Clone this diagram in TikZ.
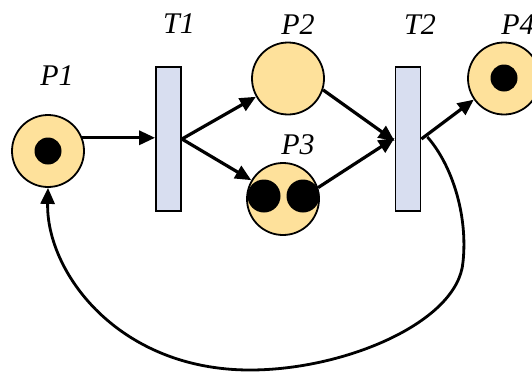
\documentclass[tikz,border=0pt]{standalone}
\usepackage{fontspec}
\setmainfont{Liberation Serif}
\usetikzlibrary{arrows.meta}
\definecolor{placefill}{RGB}{254,225,155}
\definecolor{transfill}{RGB}{216,222,240}
\begin{document}
\begin{tikzpicture}[x=1pt,y=-1pt,
  place/.style={circle,draw=black,line width=1.8pt,fill=placefill,minimum size=72pt,inner sep=0pt},
  trans/.style={rectangle,draw=black,line width=1.8pt,fill=transfill,minimum width=25pt,minimum height=144pt,inner sep=0pt},
  token/.style={circle,fill=black,inner sep=0pt,minimum size=#1},
  lbl/.style={font=\fontsize{30}{34}\selectfont\itshape,inner sep=0pt},
  arc/.style={line width=3.2pt,-{Triangle[length=16pt,width=14pt]}},
  loop/.style={line width=2.8pt,-{Triangle[length=16pt,width=14pt]}}]
\useasboundingbox (0,0) rectangle (532,372);
\node[place] (P1) at (48,151) {};
\node[token=27pt] (k1) at (48,151) {};
\node[trans] (T1) at (168.5,139) {};
\node[place] (P2) at (288,78.5) {};
\node[place] (P3) at (283,199) {};
\node[token=33pt] (k3a) at (264,196) {};
\node[token=33pt] (k3b) at (303,196) {};
\node[trans] (T2) at (408,139) {};
\node[place] (P4) at (504,78.5) {};
\node[token=27pt] (k4) at (504,78) {};
\node[lbl] (lP1) at (57,76) {P1};
\node[lbl] (lT1) at (179,24) {T1};
\node[lbl] (lP2) at (298,25) {P2};
\node[lbl] (lP3) at (298,145) {P3};
\node[lbl] (lT2) at (420,25) {T2};
\node[lbl] (lP4) at (518,25) {P4};
\draw[arc] (P1.21) -- (T1.west |- P1.21);
\draw[arc] (T1.east) -- (P2);
\draw[arc] (T1.east) -- (P3);
\draw[arc] (P2.-18) -- ([yshift=-2pt]T2.west);
\draw[arc] (P3.18) -- ([yshift=1pt]T2.west);
\draw[arc] (T2.east) -- (P4.215);
\coordinate (c1) at (463,262);
\coordinate (c2) at (250,370);
\draw[loop] ([xshift=6pt,yshift=2pt]T2.east) .. controls (452,165) and (468,215) .. (c1)
  .. controls (458,322) and (345,370) .. (c2)
  .. controls (118,370) and (46,272) .. (P1.south);
\end{tikzpicture}
\end{document}
